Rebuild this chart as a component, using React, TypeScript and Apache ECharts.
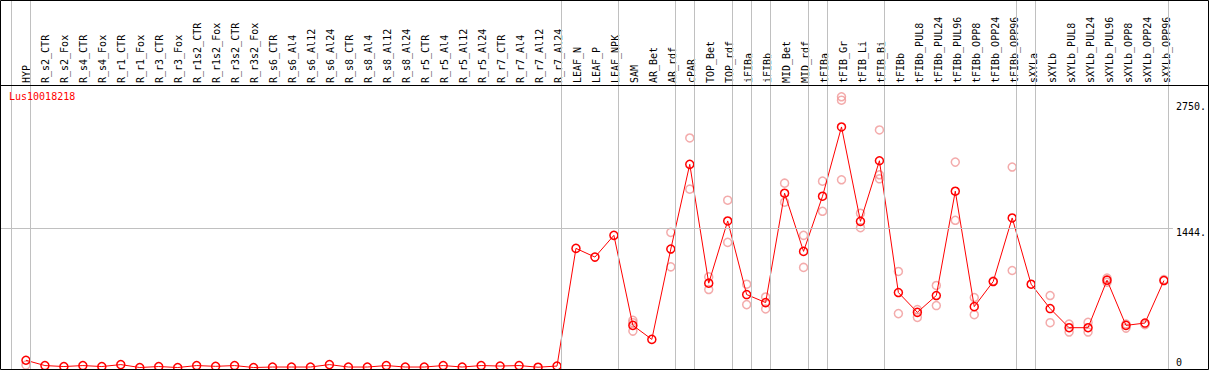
import React, { useEffect, useRef } from "react";
import * as echarts from "echarts";

const categories = [
  "HYP", "R_s2_CTR", "R_s2_Fox", "R_s4_CTR", "R_s4_Fox", "R_r1_CTR", "R_r1_Fox", "R_r3_CTR", "R_r3_Fox",
  "R_r1s2_CTR", "R_r1s2_Fox", "R_r3s2_CTR", "R_r3s2_Fox", "R_s6_CTR", "R_s6_Al4", "R_s6_Al12", "R_s6_Al24",
  "R_s8_CTR", "R_s8_Al4", "R_s8_Al12", "R_s8_Al24", "R_r5_CTR", "R_r5_Al4", "R_r5_Al12", "R_r5_Al24",
  "R_r7_CTR", "R_r7_Al4", "R_r7_Al12", "R_r7_Al24", "LEAF_N", "LEAF_P", "LEAF_NPK", "SAM", "AR_Bet", "AR_rdf",
  "cPAR", "TOP_Bet", "TOP_rdf", "iFIBa", "iFIBb", "MID_Bet", "MID_rdf", "tFIBa", "tFIB_Gr", "tFIB_Li", "tFIB_Bi",
  "tFIBb", "tFIBb_PUL8", "tFIBb_PUL24", "tFIBb_PUL96", "tFIBb_OPP8", "tFIBb_OPP24", "tFIBb_OPP96",
  "sXYLa", "sXYLb", "sXYLb_PUL8", "sXYLb_PUL24", "sXYLb_PUL96", "sXYLb_OPP8", "sXYLb_OPP24", "sXYLb_OPP96",
];

const meanValues = [
  75, 20, 10, 20, 10, 30, 0, 10, 0, 20, 12, 20, 0, 5,
  5, 5, 30, 5, 5, 20, 5, 5, 20, 5, 20, 15, 20, 3, 15,
  1233, 1143, 1368, 436, 291, 1226, 2103, 873, 1517, 755, 672, 1804, 1202, 1773,
  2490, 1513, 2140, 776, 571, 745, 1825, 630, 890, 1548, 862,
  610, 412, 412, 904, 436, 460, 900,
];

// replicate values per category (same order as categories)
const replicates: number[][] = [
  [25], [], [], [], [], [], [], [], [], [], [], [], [], [],
  [], [], [], [], [], [], [], [], [], [], [], [], [], [], [],
  [], [], [], [488, 464, 377], [], [1399, 1042], [2376, 1846], [938, 807], [1732, 1295],
  [862, 651], [730, 606], [1908, 1711], [1368, 1036], [1929, 1617],
  [2802, 2767, 1943], [1597, 1447], [2459, 1995, 1953],
  [994, 558], [599, 519], [849, 641], [2126, 1524], [724, 547], [895], [2075, 1004], [],
  [745, 464], [450, 367], [467, 367], [925, 883], [450, 408], [443], [910],
];

const groupEndsAfter = [-1, 0, 28, 31, 34, 35, 37, 38, 39, 41, 42, 45, 52, 53, 60];
const yTickValues = [0, 1444, 2750];
const geneName = "Lus10018218";

const MONO = "'DejaVu Sans Mono', monospace";

export default function App() {
  const ref = useRef<HTMLDivElement>(null);
  useEffect(() => {
    if (!ref.current) return;
    const chart = echarts.init(ref.current, undefined, { renderer: "svg" });
    const meanData = meanValues.map((v, i) => [i, v]);
    const repData: number[][] = [];
    replicates.forEach((arr, i) => arr.forEach((v) => repData.push([i, v])));
    const yMin = -15.5;
    const yMax = 3804;
    const option: any = {
      animation: false,
      backgroundColor: "#ffffff",
      title: {
        text: geneName,
        left: 9,
        top: 91,
        padding: 0,
        textStyle: { color: "#ff0000", fontSize: 10, fontWeight: "normal", fontFamily: MONO },
      },
      grid: [
        { left: 16.5, top: 85, width: 1159, height: 282 },
        { left: 1, top: 0, width: 1174, height: 369 },
      ],
      xAxis: [
        {
          type: "category",
          gridIndex: 0,
          position: "top",
          data: categories,
          boundaryGap: true,
          axisLine: { show: false },
          axisTick: { show: false },
          splitLine: { show: false },
          axisLabel: {
            interval: 0,
            rotate: 90,
            margin: 2,
            fontSize: 10,
            fontFamily: MONO,
            color: "#000",
          },
        },
        {
          type: "value",
          gridIndex: 1,
          min: -25 / 19,
          max: 1149 / 19,
          show: false,
        },
      ],
      yAxis: [
        { type: "value", gridIndex: 0, show: false },
        {
          type: "value",
          gridIndex: 1,
          position: "right",
          min: yMin,
          max: yMax,
          axisLine: { show: false },
          axisTick: { show: false },
          splitLine: { show: false },
          axisLabel: {
            customValues: yTickValues.filter((v) => v !== 0),
            formatter: (v: number) => `${v}.`,
            verticalAlign: "top",
            margin: 3,
            fontSize: 10,
            fontFamily: MONO,
            color: "#000",
          },
        },
        {
          type: "value",
          gridIndex: 1,
          position: "right",
          min: yMin,
          max: yMax,
          axisLine: { show: false },
          axisTick: { show: false },
          splitLine: { show: false },
          axisLabel: {
            customValues: yTickValues.filter((v) => v === 0),
            formatter: (v: number) => `${v}`,
            verticalAlign: "bottom",
            margin: 3,
            fontSize: 10,
            fontFamily: MONO,
            color: "#000",
          },
        },
      ],
      series: [
        {
          type: "scatter",
          xAxisIndex: 1,
          yAxisIndex: 1,
          z: 2,
          data: repData,
          symbol: "circle",
          symbolSize: 8,
          itemStyle: { color: "rgba(0,0,0,0)", borderColor: "#f09696", borderWidth: 1.5 },
          markLine: {
            silent: true,
            symbol: "none",
            label: { show: false },
            lineStyle: { color: "#c0c0c0", width: 1, type: "solid" },
            data: [
              ...groupEndsAfter.map((i) => ({ xAxis: i + 0.24 })),
              { yAxis: 1444 },
            ],
          },
        },
        {
          type: "line",
          xAxisIndex: 1,
          yAxisIndex: 1,
          z: 3,
          data: meanData,
          symbol: "circle",
          symbolSize: 8,
          showSymbol: true,
          lineStyle: { color: "#ff0000", width: 1 },
          itemStyle: { color: "rgba(0,0,0,0)", borderColor: "#ff0000", borderWidth: 1.5 },
        },
      ],
      graphic: [
        {
          type: "rect",
          z: 100,
          silent: true,
          shape: { x: 0.5, y: 0.5, width: 1208, height: 369 },
          style: { fill: "none", stroke: "#000", lineWidth: 1 },
        },
        {
          type: "line",
          z: 100,
          silent: true,
          shape: { x1: 0, y1: 85.5, x2: 1208, y2: 85.5 },
          style: { stroke: "#000", lineWidth: 1 },
        },
      ],
    };
    chart.setOption(option);
    return () => chart.dispose();
  }, []);
  return (
    <div
      ref={ref}
      style={{ position: "fixed", left: 0, top: 0, width: 1209, height: 370 }}
    />
  );
}
